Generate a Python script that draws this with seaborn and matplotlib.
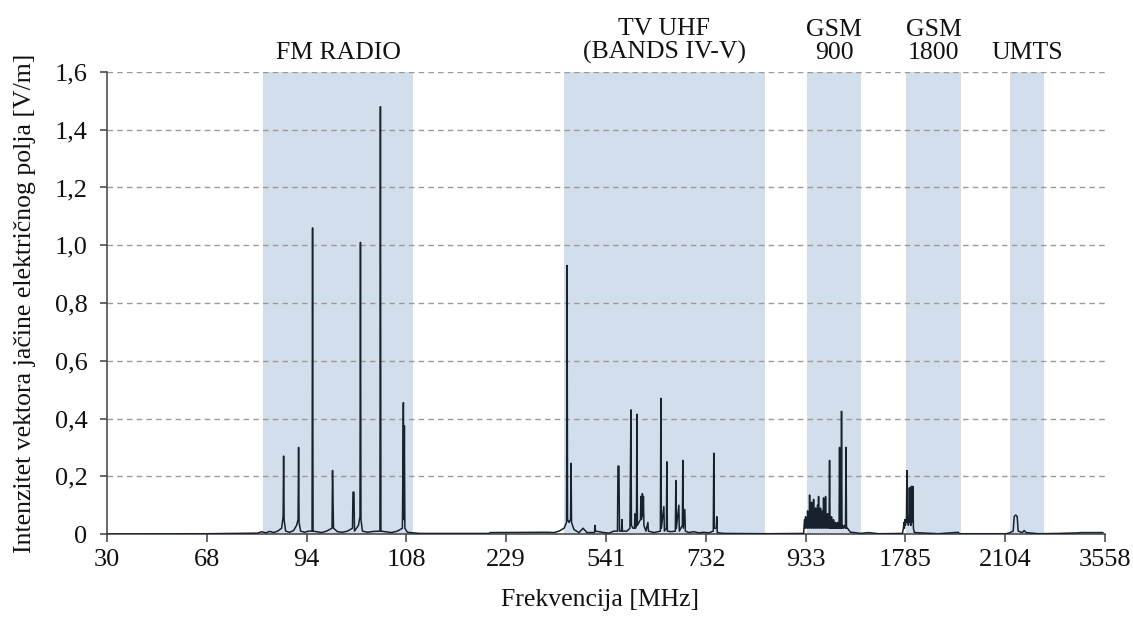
import seaborn as sns
import matplotlib.pyplot as plt
import pandas as pd

# x axis = sample index (0..1000), labelled every 100 samples with frequency in MHz
freq_labels = ["30", "68", "94", "108", "229", "541", "732", "933", "1785", "2104", "3558"]
tick_pos = [0, 100, 200, 300, 400, 500, 600, 700, 800, 900, 1000]

# shaded service bands (start sample, end sample, label)
band_start = [156, 458, 701, 801, 905]
band_end = [307, 659, 756, 856, 939]
band_names = ["FM RADIO", "TV UHF\n(BANDS IV-V)", "GSM\n900", "GSM\n1800", "UMTS"]

fm_x = [0, 100, 151, 155, 159, 163, 167, 171, 175, 176.5, 177, 177.5, 179, 183, 187, 190,
        191.5, 192, 192.5, 194, 198, 202, 205.5, 206, 206.5, 210, 215, 220, 225.5, 226, 227,
        231, 236, 241, 246, 246.5, 247.5, 248, 252, 253.5, 254, 254.5, 256, 261, 267, 273.5,
        274, 274.5, 279, 285, 291, 296, 297, 297.5, 298, 298.5, 301, 307, 313]
fm_y = [0, 0.001, 0.003, 0.008, 0.004, 0.009, 0.005, 0.01, 0.02, 0.06, 0.27, 0.05, 0.01,
        0.006, 0.012, 0.03, 0.05, 0.30, 0.04, 0.01, 0.006, 0.01, 0.01, 1.06, 0.01, 0.008,
        0.005, 0.01, 0.02, 0.22, 0.02, 0.008, 0.006, 0.01, 0.02, 0.145, 0.145, 0.01, 0.03,
        0.06, 1.01, 0.05, 0.01, 0.006, 0.009, 0.01, 1.48, 0.01, 0.008, 0.005, 0.01, 0.02,
        0.455, 0.05, 0.375, 0.02, 0.006, 0.004, 0.002]

tv_x = [383, 384, 441, 448, 453, 458, 460.5, 461, 461.5, 463, 464.5, 465, 465.5, 468, 473,
        477, 481, 488.5, 489, 489.5, 493, 498, 503, 508, 511.5, 512, 513, 513.5, 515.5, 516,
        516.5, 521, 524, 525, 525.5, 527, 528.5, 529, 529.5, 530.5, 531, 531.5, 533, 534.5,
        535, 535.5, 536.5, 537, 537.5, 538, 540, 542, 542.5, 548, 554.5, 555, 555.5, 558,
        558.5, 560.5, 561, 561.5, 565, 569.5, 570, 570.5, 573, 573.5, 576.5, 577, 577.5,
        579, 579.5, 583, 588, 593, 598, 603, 607.5, 608, 608.5, 610.5, 611, 611.5, 615, 619]
tv_y = [0.002, 0.005, 0.006, 0.005, 0.01, 0.02, 0.04, 0.93, 0.05, 0.04, 0.05, 0.245, 0.04,
        0.015, 0.005, 0.02, 0.005, 0.005, 0.03, 0.01, 0.008, 0.005, 0.003, 0.01, 0.01, 0.235,
        0.235, 0.01, 0.01, 0.05, 0.01, 0.01, 0.02, 0.43, 0.03, 0.02, 0.02, 0.07, 0.02, 0.03,
        0.415, 0.03, 0.04, 0.05, 0.13, 0.05, 0.14, 0.06, 0.13, 0.03, 0.01, 0.04, 0.01, 0.005,
        0.01, 0.47, 0.02, 0.095, 0.01, 0.02, 0.25, 0.01, 0.008, 0.01, 0.185, 0.02, 0.10, 0.01,
        0.03, 0.255, 0.02, 0.085, 0.01, 0.005, 0.008, 0.004, 0.006, 0.004, 0.01, 0.28, 0.02,
        0.02, 0.06, 0.005, 0.003, 0.002]

# GSM 900 downlink: dense cluster, (sample, value) pairs
gsm900 = [(660, 0.001), (698, 0.002), (698.5, 0.03), (699, 0.05), (699.5, 0.02), (700, 0.06),
          (700.5, 0.03), (701, 0.05), (701.5, 0.02), (702, 0.08), (702.5, 0.03), (703, 0.06),
          (703.5, 0.02), (704, 0.135), (704.5, 0.03), (705, 0.07), (705.5, 0.02), (706, 0.11),
          (706.5, 0.03), (707, 0.06), (707.5, 0.02), (708, 0.12), (708.5, 0.03), (709, 0.08),
          (709.5, 0.02), (710, 0.09), (710.5, 0.03), (711, 0.06), (711.5, 0.02), (712, 0.10),
          (712.5, 0.03), (713, 0.13), (713.5, 0.02), (714, 0.08), (714.5, 0.03), (715, 0.09),
          (715.5, 0.02), (716, 0.07), (716.5, 0.03), (717, 0.08), (717.5, 0.02), (718, 0.125),
          (718.5, 0.03), (719, 0.07), (719.5, 0.02), (720, 0.13), (720.5, 0.03), (721, 0.06),
          (721.5, 0.02), (722, 0.07), (722.5, 0.03), (723, 0.05), (723.5, 0.02), (724, 0.255),
          (724.5, 0.02), (725, 0.05), (725.5, 0.02), (726, 0.06), (726.5, 0.02), (727, 0.04),
          (727.5, 0.02), (728, 0.05), (728.5, 0.02), (729, 0.04), (729.5, 0.02), (730, 0.04),
          (730.5, 0.02), (731, 0.03), (731.5, 0.02), (732, 0.04), (732.5, 0.02), (733, 0.03),
          (733.5, 0.02), (734, 0.30), (734.5, 0.02), (735, 0.03), (735.5, 0.02), (736, 0.425),
          (736.5, 0.02), (737, 0.03), (738, 0.02), (739, 0.03), (740, 0.02), (740.5, 0.30),
          (741, 0.02), (742, 0.02), (743, 0.015), (745, 0.006), (749, 0.005), (755, 0.002),
          (763, 0.005), (773, 0.001)]
gsm900_x, gsm900_y = (list(v) for v in zip(*gsm900))

gsm1800_x = [797, 798, 798.5, 799, 799.5, 800, 800.5, 801, 801.5, 802, 802.5, 803, 803.5, 804,
             804.5, 805, 805.5, 806, 806.5, 807, 807.5, 808, 809, 833, 853, 854]
gsm1800_y = [0.002, 0.02, 0.04, 0.02, 0.05, 0.03, 0.05, 0.04, 0.22, 0.04, 0.05, 0.03, 0.05,
             0.16, 0.04, 0.05, 0.03, 0.165, 0.04, 0.05, 0.165, 0.02, 0.005, 0.001, 0.006, 0.001]

umts_x = [901, 905, 908, 909, 910, 911, 912, 913, 917, 919, 921, 933, 953, 973, 976, 998]
umts_y = [0.001, 0.005, 0.01, 0.06, 0.065, 0.065, 0.06, 0.01, 0.005, 0.012, 0.005, 0.001,
          0.002, 0.004, 0.005, 0.005]

yticks = [0, 0.2, 0.4, 0.6, 0.8, 1.0, 1.2, 1.4, 1.6]
ytick_labels = ["0", "0,2", "0,4", "0,6", "0,8", "1,0", "1,2", "1,4", "1,6"]

spectrum = pd.DataFrame({
    "sample": fm_x + tv_x + gsm900_x + gsm1800_x + umts_x,
    "E": fm_y + tv_y + gsm900_y + gsm1800_y + umts_y,
})

sns.set_theme(style="white")
plt.rcParams["font.family"] = ["Liberation Serif", "DejaVu Serif"]
plt.rcParams["font.size"] = 18

fig = plt.figure(figsize=(11.33, 6.19), dpi=100)
ax = fig.add_axes([0.0944, 0.1373, 0.8809, 0.7464])

for s, e in zip(band_start, band_end):
    ax.axvspan(s, e, color="#d3deec", lw=0, zorder=0)

sns.lineplot(data=spectrum, x="sample", y="E", sort=False, estimator=None,
             color="#18222f", lw=1.1, ax=ax, zorder=3)

ax.set_xlim(0, 1000)
ax.set_ylim(0, 1.6)
ax.set_xticks(tick_pos)
ax.set_xticklabels(freq_labels, fontsize=19, color="#111111")
ax.set_yticks(yticks)
ax.set_yticklabels(ytick_labels, fontsize=19, color="#111111")

ax.yaxis.grid(True, linestyle=(0, (4, 3)), color="#9a9a9a", lw=1.0, zorder=1)
ax.xaxis.grid(False)
for side in ["top", "right"]:
    ax.spines[side].set_visible(False)
for side in ["left", "bottom"]:
    ax.spines[side].set_color("#404040")
    ax.spines[side].set_linewidth(1.1)
ax.tick_params(axis="y", direction="out", length=5, width=1.1, color="#404040", pad=9, left=True)
ax.tick_params(axis="x", direction="out", length=6, width=1.1, color="#404040", pad=5, bottom=True)

ax.set_xlabel("Frekvencija [MHz]", fontsize=18.5, color="#111111")
ax.set_ylabel("Intenzitet vektora jačine električnog polja [V/m]", fontsize=18.5, color="#111111")
ax.xaxis.set_label_coords(0.494, -0.12)
ax.yaxis.set_label_coords(-0.071, 0.5)

for s, e, name in zip(band_start, band_end, band_names):
    ax.text((s + e) / 2, 1.017, name, transform=ax.get_xaxis_transform(),
            ha="center", va="bottom", fontsize=18.5, color="#111111", linespacing=1.05)

fig.savefig("out.png", dpi=100, facecolor="white")
